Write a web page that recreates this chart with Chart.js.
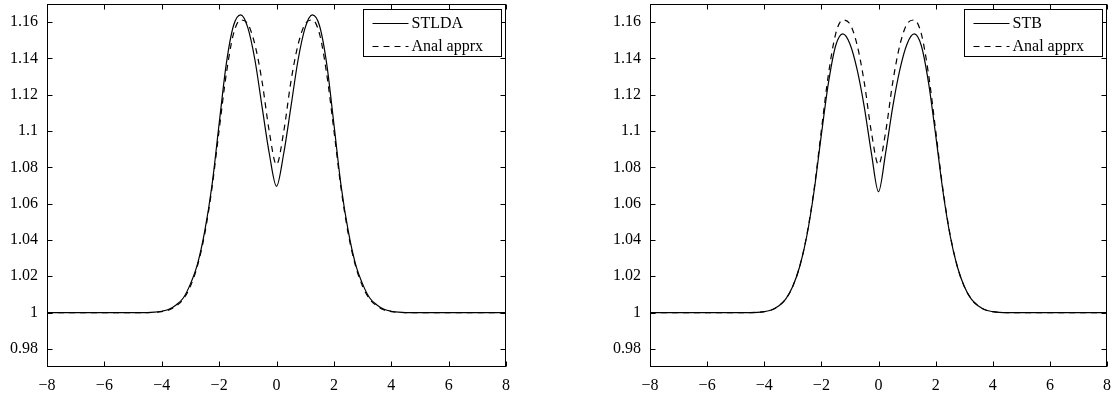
<!DOCTYPE html>
<html lang="en">
<head>
<meta charset="UTF-8">
<title>STLDA / STB vs analytic approximation</title>
<script src="https://cdn.jsdelivr.net/npm/chart.js@4.4.0/dist/chart.umd.min.js"></script>
<style>
    body { margin: 0; background: #fff; }
    .panel { position: absolute; top: 0; width: 560px; height: 396px; }
    #left { left: 0; }
    #right { left: 560px; }
</style>
</head>
<body>
<div class="panel" id="left"><canvas id="chartLeft" width="560" height="396"></canvas></div>
<div class="panel" id="right"><canvas id="chartRight" width="560" height="396"></canvas></div>

<script>
    // sample positions along x
    const xValues = [-8, -7, -6, -5,
        -4.5, -4.25, -4, -3.75, -3.5, -3.25, -3, -2.75, -2.5, -2.25, -2, -1.75, -1.5, -1.25, -1, -0.75, -0.5, -0.25,
        0,
        0.25, 0.5, 0.75, 1, 1.25, 1.5, 1.75, 2, 2.25, 2.5, 2.75, 3, 3.25, 3.5, 3.75, 4, 4.25, 4.5,
        5, 6, 7, 8];

    // left panel, solid
    const stlda = [1, 1, 1, 1,
        1.0000, 1.0002, 1.0007, 1.0018, 1.0042, 1.0080, 1.0158, 1.0270, 1.0450, 1.0700, 1.1040, 1.1370, 1.1580, 1.1640, 1.1570, 1.1390, 1.1130, 1.0875,
        1.0695,
        1.0875, 1.1130, 1.1390, 1.1570, 1.1640, 1.1580, 1.1370, 1.1040, 1.0700, 1.0450, 1.0270, 1.0158, 1.0080, 1.0042, 1.0018, 1.0007, 1.0002, 1.0000,
        1, 1, 1, 1];

    // right panel, solid
    const stb = [1, 1, 1, 1,
        1.0000, 1.0001, 1.0005, 1.0014, 1.0036, 1.0074, 1.0145, 1.0258, 1.0430, 1.0675, 1.0980, 1.1268, 1.1470, 1.1535, 1.1480, 1.1340, 1.1135, 1.0880,
        1.0666,
        1.0880, 1.1135, 1.1340, 1.1480, 1.1535, 1.1470, 1.1268, 1.0980, 1.0675, 1.0430, 1.0258, 1.0145, 1.0074, 1.0036, 1.0014, 1.0005, 1.0001, 1.0000,
        1, 1, 1, 1];

    // dashed curve, same in both panels
    const analApprx = [1, 1, 1, 1,
        1.0000, 1.0001, 1.0005, 1.0014, 1.0036, 1.0074, 1.0145, 1.0260, 1.0435, 1.0685, 1.1005, 1.1315, 1.1535, 1.1612, 1.1590, 1.1475, 1.1270, 1.0995,
        1.0815,
        1.0995, 1.1270, 1.1475, 1.1590, 1.1612, 1.1535, 1.1315, 1.1005, 1.0685, 1.0435, 1.0260, 1.0145, 1.0074, 1.0036, 1.0014, 1.0005, 1.0001, 1.0000,
        1, 1, 1, 1];

    const xTicks = [-8, -6, -4, -2, 0, 2, 4, 6, 8];
    const yTicks = [0.98, 1, 1.02, 1.04, 1.06, 1.08, 1.1, 1.12, 1.14, 1.16];

    const FONT = '"Liberation Serif", "Times New Roman", serif';

    function points(ys) {
        return xValues.map((x, i) => ({ x: x, y: ys[i] }));
    }

    function fmtX(v) {
        return v < 0 ? '\u2212' + (-v) : String(v);
    }

    function fmtY(v) {
        return String(Math.round(v * 100) / 100);
    }

    // box, inward ticks on all sides and the boxed legend (matlab look)
    const matlabFrame = {
        id: 'matlabFrame',
        afterDraw(chart) {
            const { ctx, chartArea: a } = chart;
            const sx = chart.scales.x, sy = chart.scales.y;
            const L = Math.round(a.left) + 0.5, R = Math.round(a.right) - 0.5;
            const T = Math.round(a.top) + 0.5, B = Math.round(a.bottom) - 0.5;
            ctx.save();
            ctx.strokeStyle = '#000';
            ctx.lineWidth = 1;
            ctx.strokeRect(L, T, R - L, B - T);

            ctx.beginPath();
            xTicks.forEach(v => {
                const px = Math.round(sx.getPixelForValue(v)) + 0.5;
                ctx.moveTo(px, B); ctx.lineTo(px, B - 5);
                ctx.moveTo(px, T); ctx.lineTo(px, T + 5);
            });
            yTicks.forEach(v => {
                const py = Math.round(sy.getPixelForValue(v)) + 0.5;
                ctx.moveTo(L, py); ctx.lineTo(L + 5, py);
                ctx.moveTo(R, py); ctx.lineTo(R - 5, py);
            });
            ctx.stroke();

            // legend
            const w = 138, h = 47;
            const bx = Math.round(R - 5 - w) + 0.5, by = T + 5;
            ctx.fillStyle = '#fff';
            ctx.fillRect(bx, by, w, h);
            ctx.strokeRect(bx, by, w, h);
            ctx.font = '16px ' + FONT;
            ctx.textBaseline = 'middle';
            ctx.fillStyle = '#000';
            chart.data.datasets.forEach((ds, i) => {
                const ry = Math.round(by + 13 + i * 23) + 0.5;
                ctx.setLineDash(ds.borderDash || []);
                ctx.beginPath();
                ctx.moveTo(bx + 9, ry);
                ctx.lineTo(bx + 45, ry);
                ctx.stroke();
                ctx.setLineDash([]);
                ctx.fillText(ds.label, bx + 48, ry);
            });
            ctx.restore();
        }
    };

    function makeChart(id, solidLabel, solidData, axisWidth, padRight) {
        return new Chart(document.getElementById(id), {
            type: 'line',
            data: {
                datasets: [
                    {
                        label: solidLabel,
                        data: points(solidData),
                        borderColor: '#000',
                        borderWidth: 1.2,
                    },
                    {
                        label: 'Anal apprx',
                        data: points(analApprx),
                        borderColor: '#000',
                        borderWidth: 1.2,
                        borderDash: [6, 5],
                    },
                ],
            },
            options: {
                responsive: false,
                animation: false,
                layout: { padding: { top: 4, right: padRight, left: 0, bottom: 0 } },
                elements: {
                    point: { radius: 0 },
                    line: { cubicInterpolationMode: 'monotone', fill: false },
                },
                plugins: {
                    legend: { display: false },
                    tooltip: { enabled: false },
                },
                scales: {
                    x: {
                        type: 'linear',
                        min: -8,
                        max: 8,
                        afterFit: s => {
                            s.height = 29;
                            s.paddingLeft = 0;
                            s.paddingRight = 0;
                        },
                        afterBuildTicks: s => { s.ticks = xTicks.map(v => ({ value: v })); },
                        grid: { display: false, drawTicks: false },
                        border: { display: false },
                        ticks: {
                            callback: v => fmtX(v),
                            color: '#000',
                            font: { family: FONT, size: 16 },
                            padding: 9,
                            maxRotation: 0,
                            autoSkip: false,
                        },
                    },
                    y: {
                        type: 'linear',
                        min: 0.97,
                        max: 1.17,
                        afterFit: s => {
                            s.width = axisWidth;
                            s.paddingTop = 0;
                            s.paddingBottom = 0;
                        },
                        afterBuildTicks: s => { s.ticks = yTicks.map(v => ({ value: v })); },
                        grid: { display: false, drawTicks: false },
                        border: { display: false },
                        ticks: {
                            callback: v => fmtY(v),
                            color: '#000',
                            font: { family: FONT, size: 16 },
                            padding: 9,
                            autoSkip: false,
                        },
                    },
                },
            },
            plugins: [matlabFrame],
        });
    }

    makeChart('chartLeft', 'STLDA', stlda, 47, 54);
    makeChart('chartRight', 'STB', stb, 90, 13);
</script>
</body>
</html>
